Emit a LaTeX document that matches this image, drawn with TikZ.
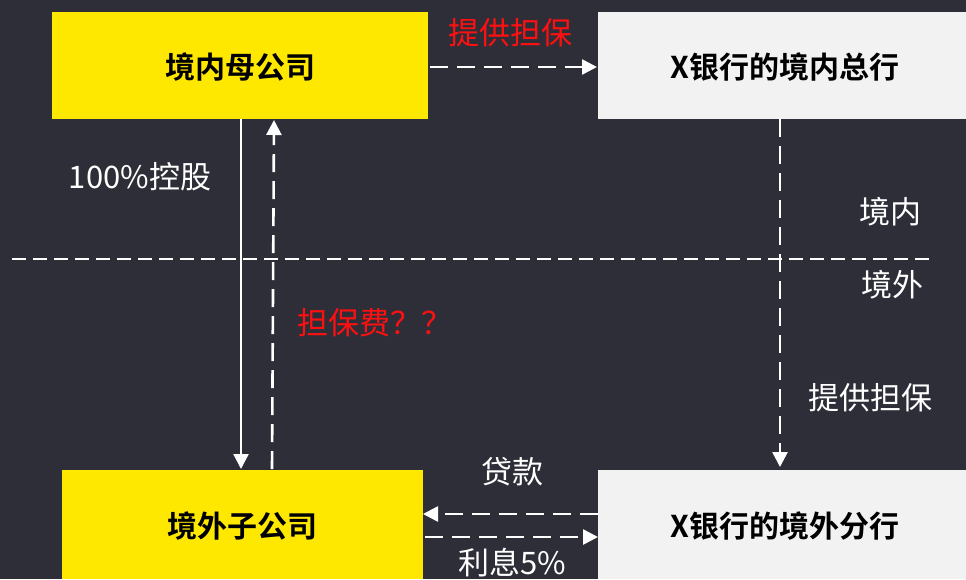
\documentclass[tikz,border=0pt]{standalone}
\usepackage{fontspec}
\setmainfont{Noto Sans CJK SC}[BoldFont={Noto Sans CJK SC Bold}]
\usetikzlibrary{arrows.meta}
\definecolor{bg}{HTML}{2E2E38}
\definecolor{yel}{HTML}{FFE800}
\definecolor{lgray}{HTML}{F2F2F2}
\definecolor{redt}{HTML}{FF1010}
\tikzset{
  box/.style={draw=none,inner sep=0pt,font=\fontsize{30}{36}\selectfont\bfseries,text=black},
  lbl/.style={inner sep=0pt,font=\fontsize{31}{36}\selectfont,text=white},
  rlbl/.style={inner sep=0pt,font=\fontsize{31}{36}\selectfont,text=redt},
  arr/.style={draw=white,line width=2.6pt,-{Triangle[width=15pt,length=15pt]}},
  darr/.style={arr,dash pattern=on 18pt off 9pt},
}
\begin{document}
\begin{tikzpicture}[x=1pt,y=-1pt]
\fill[bg] (0,0) rectangle (966,579);
\useasboundingbox (0,0) rectangle (966,579);
% boxes
\fill[yel] (52,12) rectangle (428,119);
\node[box] (m) at (240,67) {境内母公司};
\fill[lgray] (598,12) rectangle (966,119);
\node[box] (h) at (785,67) {X银行的境内总行};
\fill[yel] (62,470) rectangle (423,579);
\node[box] (s) at (242,526) {境外子公司};
\fill[lgray] (598,470) rectangle (966,579);
\node[box] (b) at (785,526) {X银行的境外分行};
% coordinates
\coordinate (a1s) at (430,67);
\coordinate (a1e) at (597,67);
\coordinate (a2s) at (241,119);
\coordinate (a2e) at (241,469);
\coordinate (a3s) at (272,469);
\coordinate (a3e) at (274,120);
\coordinate (a4s) at (780,119);
\coordinate (a4e) at (780,467);
\coordinate (a5s) at (598,514);
\coordinate (a5e) at (423,514);
\coordinate (a6s) at (425,537);
\coordinate (a6e) at (598,537);
\coordinate (l1) at (12,259);
\coordinate (l2) at (936,259);
% divider
\draw[white,line width=1.8pt,dash pattern=on 14pt off 7pt] (l1) -- (l2);
% arrows
\draw[darr] (a1s) -- (a1e);
\draw[arr,line width=2.2pt] (a2s) -- (a2e);
\draw[darr] (a3s) -- (a3e);
\draw[darr] (a4s) -- (a4e);
\draw[darr] (a5s) -- (a5e);
\draw[darr] (a6s) -- (a6e);
% labels
\node[rlbl] (t1) at (510,33) {提供担保};
\node[lbl] (t2) at (140,177) {100\%控股};
\node[rlbl] (t3) at (375,323) {担保费？？};
\node[lbl] (t4) at (890,212) {境内};
\node[lbl] (t5) at (892,285) {境外};
\node[lbl] (t6) at (870,398) {提供担保};
\node[lbl] (t7) at (512,472) {贷款};
\node[lbl] (t8) at (512,563) {利息5\%};
\end{tikzpicture}
\end{document}
